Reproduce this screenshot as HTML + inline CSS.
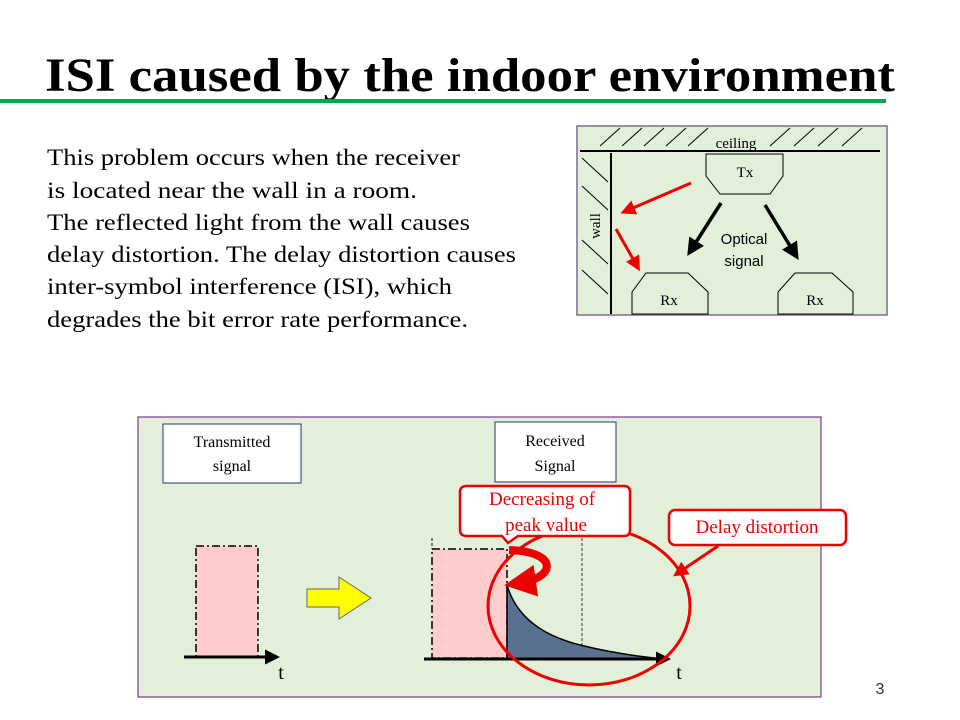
<!DOCTYPE html>
<html><head><meta charset="utf-8"><style>
body{margin:0;background:#fff;}
svg{display:block;font-family:"Liberation Serif",serif;}
</style></head><body>
<svg width="960" height="720" viewBox="0 0 960 720">
<text x="45" y="91" font-size="48" font-weight="bold" textLength="850" lengthAdjust="spacingAndGlyphs">ISI caused by the indoor environment</text>
<rect x="0" y="99" width="886" height="4" fill="#00a650"/>
<g font-size="23">
<text x="47" y="165" textLength="413" lengthAdjust="spacingAndGlyphs">This problem occurs when the receiver</text>
<text x="47" y="198" textLength="370" lengthAdjust="spacingAndGlyphs">is located near the wall in a room.</text>
<text x="47" y="230" textLength="423" lengthAdjust="spacingAndGlyphs">The reflected light from the wall causes</text>
<text x="47" y="262" textLength="469" lengthAdjust="spacingAndGlyphs">delay distortion. The delay distortion causes</text>
<text x="47" y="294" textLength="405" lengthAdjust="spacingAndGlyphs">inter-symbol interference (ISI), which</text>
<text x="47" y="327" textLength="421" lengthAdjust="spacingAndGlyphs">degrades the bit error rate performance.</text>
</g>
<!-- room diagram -->
<rect x="577" y="126" width="310" height="189" fill="#e2efd9" stroke="#7a6a9a" stroke-width="1.5"/>
<g stroke="#000" stroke-width="1">
<line x1="600" y1="146" x2="620" y2="128"/><line x1="622" y1="146" x2="642" y2="128"/><line x1="644" y1="146" x2="664" y2="128"/><line x1="666" y1="146" x2="686" y2="128"/><line x1="688" y1="146" x2="708" y2="128"/><line x1="770" y1="146" x2="790" y2="128"/><line x1="794" y1="146" x2="814" y2="128"/><line x1="818" y1="146" x2="838" y2="128"/><line x1="842" y1="146" x2="862" y2="128"/>
<line x1="582" y1="158" x2="608" y2="182"/><line x1="582" y1="186" x2="608" y2="210"/><line x1="582" y1="240" x2="608" y2="264"/><line x1="582" y1="270" x2="608" y2="294"/>
</g>
<line x1="580" y1="151" x2="880" y2="151" stroke="#000" stroke-width="2"/>
<line x1="611" y1="153" x2="611" y2="314" stroke="#000" stroke-width="2"/>
<text x="736" y="148" font-size="15" text-anchor="middle">ceiling</text>
<text x="600" y="226" font-size="15" text-anchor="middle" transform="rotate(-90 600 226)">wall</text>
<polygon points="706,154 783,154 783,176 770,194 720,194 706,176" fill="#e2efd9" stroke="#000"/>
<text x="745" y="177" font-size="15" text-anchor="middle">Tx</text>
<polygon points="646,273 688,273 708,292 708,314 632,314 632,292" fill="#e2efd9" stroke="#000"/>
<text x="669" y="305" font-size="15" text-anchor="middle">Rx</text>
<polygon points="795,273 832,273 853,292 853,314 778,314 778,292" fill="#e2efd9" stroke="#000"/>
<text x="815" y="305" font-size="15" text-anchor="middle">Rx</text>
<text x="744" y="244" font-size="15" text-anchor="middle" font-family="Liberation Sans,sans-serif">Optical</text>
<text x="744" y="266" font-size="15" text-anchor="middle" font-family="Liberation Sans,sans-serif">signal</text>
<defs>
<marker id="ab" markerWidth="5" markerHeight="5" refX="3" refY="2.5" orient="auto"><path d="M0,0L5,2.5L0,5z" fill="#000"/></marker>
<marker id="ar" markerWidth="5" markerHeight="5" refX="3" refY="2.5" orient="auto"><path d="M0,0L5,2.5L0,5z" fill="#e00"/></marker>
<marker id="ar2" markerWidth="4" markerHeight="4" refX="2" refY="2" orient="auto"><path d="M0,0L4,2L0,4z" fill="#e00"/></marker>
</defs>
<line x1="721" y1="203" x2="691" y2="250" stroke="#000" stroke-width="3.5" marker-end="url(#ab)"/>
<line x1="765" y1="205" x2="795" y2="254" stroke="#000" stroke-width="3.5" marker-end="url(#ab)"/>
<line x1="691" y1="183" x2="626" y2="211" stroke="#e00" stroke-width="3" marker-end="url(#ar)"/>
<line x1="616" y1="229" x2="637" y2="266" stroke="#e00" stroke-width="3" marker-end="url(#ar)"/>
<!-- bottom diagram -->
<rect x="138" y="417" width="683" height="280" fill="#e2efd9" stroke="#7a3a8a" stroke-width="1.2"/>
<rect x="163" y="424" width="138" height="59" fill="#fff" stroke="#203080" stroke-width="1"/>
<text x="232" y="447" font-size="16" text-anchor="middle">Transmitted</text>
<text x="232" y="471" font-size="16" text-anchor="middle">signal</text>
<rect x="495" y="422" width="121" height="60" fill="#fff" stroke="#203080" stroke-width="1"/>
<text x="555" y="446" font-size="16" text-anchor="middle">Received</text>
<text x="555" y="471" font-size="16" text-anchor="middle">Signal</text>
<rect x="196" y="546" width="62" height="111" fill="#ffcccc" stroke="#000" stroke-width="1.5" stroke-dasharray="8,3,2,3"/>
<line x1="184" y1="657" x2="274" y2="657" stroke="#000" stroke-width="3" marker-end="url(#ab)"/>
<text x="281" y="679" font-size="20" text-anchor="middle">t</text>
<polygon points="307,589 339,589 339,577 371,598 339,619 339,607 307,607" fill="#ffff00" stroke="#666" stroke-width="1"/>
<rect x="432" y="549" width="75" height="109" fill="#ffcccc" stroke="#000" stroke-width="1.5" stroke-dasharray="8,3,2,3"/>
<line x1="432" y1="538" x2="432" y2="549" stroke="#000" stroke-dasharray="3,2"/>
<line x1="582" y1="538" x2="582" y2="659" stroke="#333" stroke-dasharray="3,2"/>
<path d="M507,585 Q520,630 580,645 Q620,655 665,659 L507,659 Z" fill="#5a7090" stroke="#000" stroke-width="1.5"/>
<line x1="424" y1="659" x2="665" y2="659" stroke="#000" stroke-width="3" marker-end="url(#ab)"/>
<text x="679" y="679" font-size="20" text-anchor="middle">t</text>
<ellipse cx="589" cy="606" rx="101" ry="79" fill="none" stroke="#e00" stroke-width="3"/>
<path d="M509,550 C560,552 555,578 520,583" fill="none" stroke="#e00" stroke-width="8" marker-end="url(#ar2)"/>
<path d="M467,486 H624 Q630,486 630,492 V530 Q630,536 624,536 H518 L508,543 L502,536 H467 Q460,536 460,530 V492 Q460,486 467,486 Z" fill="#fff" stroke="#e00" stroke-width="2.5"/>
<text x="542" y="505" font-size="19" fill="#e00" text-anchor="middle">Decreasing of</text>
<text x="546" y="531" font-size="19" fill="#e00" text-anchor="middle">peak value</text>
<rect x="669" y="510" width="177" height="35" rx="6" fill="#fff" stroke="#e00" stroke-width="2.5"/>
<text x="757" y="533" font-size="19" fill="#e00" text-anchor="middle">Delay distortion</text>
<line x1="718" y1="546" x2="678" y2="573" stroke="#e00" stroke-width="3" marker-end="url(#ar)"/>
<text x="880" y="694" font-size="16" text-anchor="middle" font-family="Liberation Sans,sans-serif" fill="#333">3</text>
</svg>
</body></html>
